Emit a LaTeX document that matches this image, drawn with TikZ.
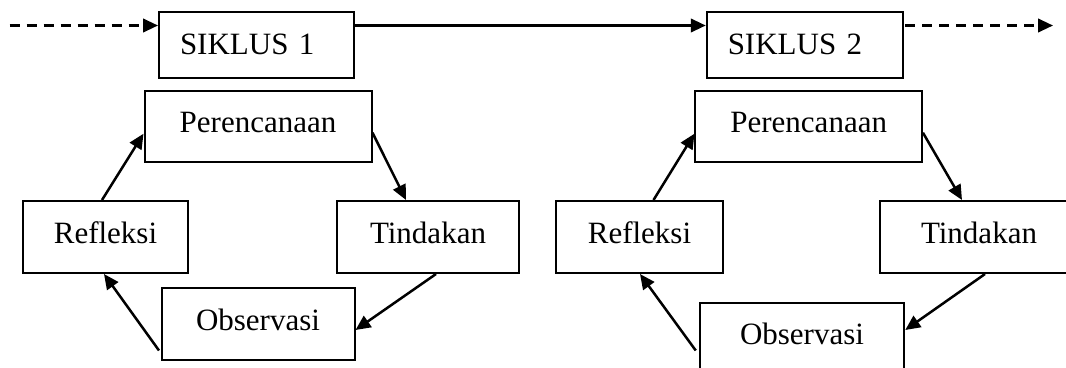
\documentclass[tikz,border=0pt]{standalone}
\usepackage{fontspec}
\setmainfont{Liberation Serif}
\usetikzlibrary{arrows.meta}
\tikzset{
  box/.style={draw, line width=2pt, inner sep=0pt, font=\fontsize{31pt}{37pt}\selectfont,
    text height=21.7pt, text depth=9.6pt},
  headbox/.style={box, text depth=3.1pt, align=left, inner xsep=21pt, minimum height=66pt},
  arr/.style={line width=2.5pt, -{Triangle[length=15pt,width=13.5pt]}},
  dasharr/.style={arr, dash pattern=on 10pt off 7pt}
}
\begin{document}
\begin{tikzpicture}[x=1pt,y=-1pt]
\useasboundingbox (0,0) rectangle (1066,367);
\clip (0,0) rectangle (1066,367);
% header boxes
\node[headbox, text width=153pt] (sik1) at (256.5,45) {SIKLUS 1};
\node[headbox, text width=154.5pt] (sik2) at (805,45) {SIKLUS 2};
% cycle 1
\node[box, minimum width=227pt, minimum height=71.5pt] (per1) at (258,126.7) {Perencanaan};
\node[box, minimum width=165pt, minimum height=72pt] (ref1) at (105.5,237) {Refleksi};
\node[box, minimum width=182.5pt, minimum height=72pt] (tin1) at (428,237) {Tindakan};
\node[box, minimum width=193pt, minimum height=72pt] (obs1) at (258,324) {Observasi};
% cycle 2
\node[box, minimum width=226.5pt, minimum height=71.5pt] (per2) at (808.7,126.7) {Perencanaan};
\node[box, minimum width=167pt, minimum height=72pt] (ref2) at (639.5,237) {Refleksi};
\node[box, minimum width=198pt, minimum height=72pt] (tin2) at (979,237) {Tindakan};
\node[box, minimum width=204.5pt, minimum height=70pt] (obs2) at (802,338) {Observasi};
% top line
\coordinate (start) at (9.5,25.5);
\coordinate (finish) at (1053,25.5);
\draw[dasharr] (start) -- ([yshift=19.5pt]sik1.west);
\draw[arr] ([yshift=19.5pt]sik1.east) -- ([yshift=19.5pt]sik2.west);
\draw[dasharr] ([xshift=1pt,yshift=19.5pt]sik2.east) -- (finish);
% cycle 1 arrows
\draw[arr] ([xshift=-3.5pt]ref1.north) -- ([yshift=-7pt]per1.west);
\draw[arr] ([yshift=-6pt]per1.east) -- ([xshift=-22pt]tin1.north);
\draw[arr] ([xshift=8pt]tin1.south) -- ([yshift=-6pt]obs1.east);
\draw[arr] ([xshift=-1.5pt,yshift=-26.5pt]obs1.west) -- ([xshift=-1.5pt]ref1.south);
% cycle 2 arrows
\draw[arr] ([xshift=14pt]ref2.north) -- ([yshift=-7pt]per2.west);
\draw[arr] ([yshift=-6pt]per2.east) -- ([xshift=-17pt]tin2.north);
\draw[arr] ([xshift=6pt]tin2.south) -- ([yshift=8pt]obs2.east);
\draw[arr] ([xshift=-3pt,yshift=-12.5pt]obs2.west) -- ([xshift=0.5pt]ref2.south);
\end{tikzpicture}
\end{document}
